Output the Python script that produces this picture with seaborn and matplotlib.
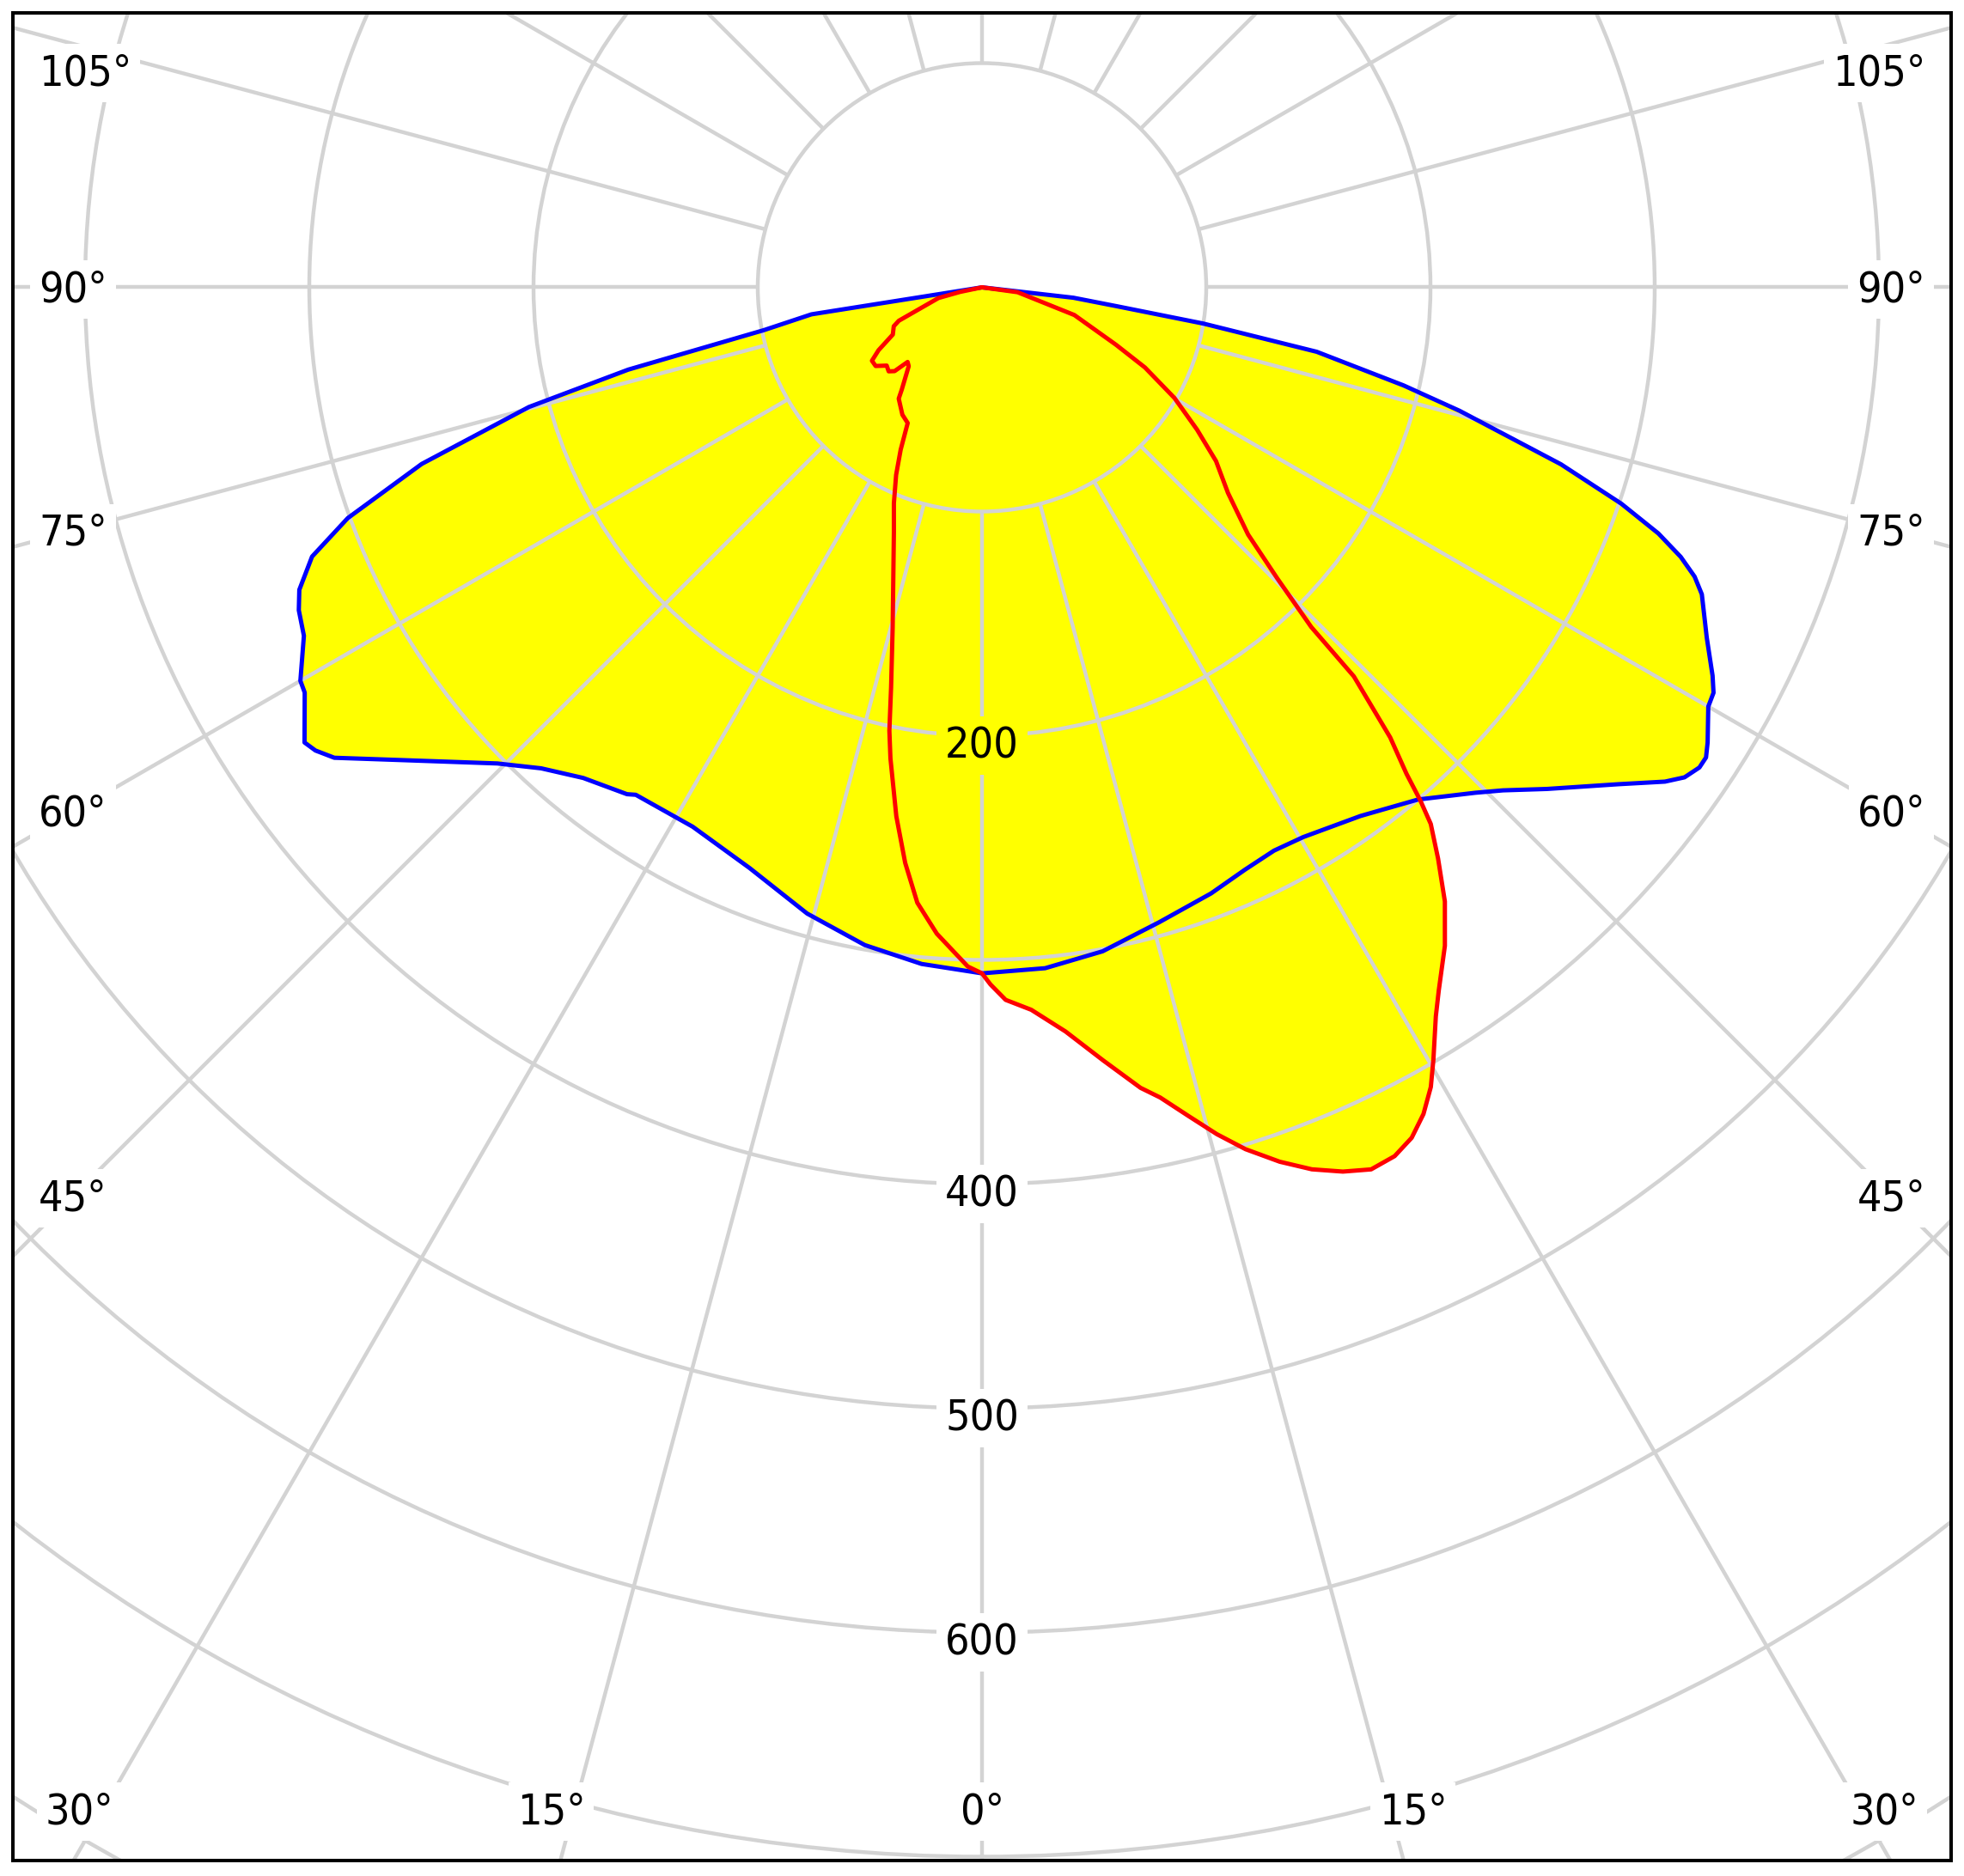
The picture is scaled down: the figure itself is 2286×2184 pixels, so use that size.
import numpy as np
import pandas as pd
import matplotlib
matplotlib.use("Agg")
import matplotlib.pyplot as plt
import seaborn as sns
from matplotlib.patches import Circle
from matplotlib.path import Path
from matplotlib import font_manager as fm

# ---------------- data (angle from nadir in degrees, intensity in cd) ----------------
blue_angles = [-90, -81.0, -78.9, -76.9, -75.2, -72.5, -70.0, -68.1, -66.1, -64.7,
               -62.8, -60.0, -59.1, -56.1, -55.2, -54.0, -51.0, -45.5, -42.5, -39.1, -35.0,
               -34.3, -28.2, -21.8, -15.6, -10.1, -5.1, 0,
               5.3, 10.3, 15.6, 20.7, 24.3, 27.4, 30.3, 35.6, 40.4, 44.3, 46.0, 48.4, 52.0,
               54.1, 55.1, 56.2, 57.0, 57.9, 60.0, 61.0, 62.0, 64.2, 66.9, 67.9, 68.9, 70.0,
               71.3, 73.0, 75.5, 76.9, 79.1, 80.7, 82.0, 83.5, 90]
blue_values = [0, 77, 99, 162, 209, 262, 301, 322, 333, 337,
               340, 351, 352, 364, 362, 357, 335, 303, 291, 282, 276,
               274, 273, 279, 290, 298, 303, 306,
               305, 301, 294, 289, 285, 283, 284, 290, 300, 315, 323, 337, 360,
               376, 382, 385, 385, 382, 374, 373, 369, 359, 349, 343, 334, 321,
               301, 270, 220, 193, 152, 100, 61, 41, 0]

red_angles = [-90, -78.2, -76.2, -68.1, -66.2, -62.1, -58.7, -56.3, -53.5, -50.6, -48.0,
              -46.2, -44.9, -42.9, -38.1, -36.8, -32.0, -28.7, -26.6, -24.6, -22.2, -19.8,
              -14.7, -12.8, -11.8, -11.0, -9.2, -7.6, -6.0, -4.0, -1.2, 0,
              0.7, 1.9, 3.9, 6.4, 8.9, 11.2, 12.4, 14.0, 15.5, 17.0, 18.8, 20.5, 22.2, 23.8,
              25.4, 26.8, 28.1, 29.3, 30.3, 31.9, 33.0, 35.1, 37.0, 38.6, 39.9, 40.5, 41.1,
              42.2, 43.7, 44.1, 45.4, 47.1, 50.1, 53.4, 56.5, 60.1, 63.8, 66.8, 73.3, 82.2, 90]
red_values = [0, 10, 20, 40, 43, 45, 54, 59, 59, 55, 56,
              54, 47, 48, 58, 62, 67, 69, 81, 92, 104, 116,
              157, 183, 202, 214, 239, 259, 276, 289, 303, 306,
              311, 318, 323, 334, 349, 364, 370, 381, 392, 402, 412, 420, 426, 430,
              429, 425, 418, 409, 399, 383, 374, 359, 343, 326, 312, 301, 288,
              271, 240, 211, 185, 162, 143, 130, 115, 99, 81, 65, 43, 16, 0]

ring_values = [100, 200, 300, 400, 500, 600, 700, 800, 900, 1000]
ring_labels = [200, 400, 500, 600]
spoke_angles = list(range(0, 360, 15))
bottom_angle_labels = [0, 15, 30]
side_angle_labels = [45, 60, 75, 90, 105]

# ---------------- styling ----------------
W, H, DPI = 2286, 2184, 100
GRID = "#d3d3d3"
YELLOW = "#ffff00"
BLUE = "#0000ff"
RED = "#ff0000"

sns.set_theme(style="white")
plt.rcParams["font.family"] = ["DejaVu Sans"]
has_cond = any(("DejaVuSansCondensed" in f.fname) or ("DejaVuSans-Condensed" in f.fname)
               for f in fm.fontManager.ttflist)
if has_cond:
    FONT = dict(family="DejaVu Sans", stretch="condensed", size=36)
else:
    FONT = dict(family="DejaVu Sans", size=34)

fig = plt.figure(figsize=(W / DPI, H / DPI), dpi=DPI)
fig.patch.set_facecolor("white")

# pixel geometry of the frame and pole
L, R, T, B = 14.7, 2271.3, 14.7, 2166.0
cx, cy = 1143.0, 334.5
PX = 2.61  # pixels per cd

ax = fig.add_axes([L / W, (H - B) / H, (R - L) / W, (B - T) / H])
ax.set_xlim((L - cx) / PX, (R - cx) / PX)
ax.set_ylim(-(B - cy) / PX, (cy - T) / PX)
ax.set_facecolor("white")
ax.set_xticks([])
ax.set_yticks([])
for s in ax.spines.values():
    s.set_color("black")
    s.set_linewidth(2.9)
    s.set_zorder(6)


def to_xy(angles, values):
    t = np.radians(np.asarray(angles, float))
    v = np.asarray(values, float)
    return v * np.sin(t), -v * np.cos(t)


bx, by = to_xy(blue_angles, blue_values)
rx, ry = to_xy(red_angles, red_values)
df_blue = pd.DataFrame({"x": bx, "y": by})
df_red = pd.DataFrame({"x": rx, "y": ry})

# fill
ax.fill(bx, by, color=YELLOW, lw=0, zorder=1)
ax.fill(rx, ry, color=YELLOW, lw=0, zorder=1)

# grid
for r in ring_values:
    ax.add_patch(Circle((0, 0), r, fill=False, ec=GRID, lw=3.2, zorder=2))
for a in spoke_angles:
    t = np.radians(a)
    ax.plot([100 * np.sin(t), 1200 * np.sin(t)], [-100 * np.cos(t), -1200 * np.cos(t)],
            color=GRID, lw=3.2, zorder=2, solid_capstyle="butt")

# curves
sns.lineplot(data=df_blue, x="x", y="y", sort=False, estimator=None, color=BLUE,
             lw=3.6, ax=ax, zorder=4)
sns.lineplot(data=df_red, x="x", y="y", sort=False, estimator=None, color=RED,
             lw=3.6, ax=ax, zorder=4)
for ln in ax.lines[-2:]:
    ln.set_solid_joinstyle("round")
ax.set_xlabel("")
ax.set_ylabel("")

paths = [Path(np.column_stack([bx, by])), Path(np.column_stack([rx, ry]))]


def bg(x, y):
    return YELLOW if any(p.contains_point((x, y)) for p in paths) else "white"


def label(x, y, s, ha="center"):
    ax.text(x, y, s, ha=ha, va="center", color="black", zorder=3,
            bbox=dict(boxstyle="square,pad=0.2", fc=bg(x, y), ec="none"), **FONT)


# intensity labels (set slightly below their ring)
for v in ring_labels:
    label(0, -v - 4.5, str(v))

# bottom angle labels
yb = -(2109 - cy) / PX
for a in bottom_angle_labels:
    sides = [1] if a == 0 else [-1, 1]
    for sgn in sides:
        x = sgn * (abs(yb) * np.tan(np.radians(a)) + (10 if a else 0))
        label(x, yb, f"{a}°")

# side angle labels
xs = (cx - 85) / PX
ytop = (cy - T) / PX
for a in side_angle_labels:
    t = np.radians(a)
    y = -xs * np.cos(t) / np.sin(t) - 1.0
    y = min(y, ytop - 27)
    label(-(cx - 45) / PX, y, f"{a}°", ha="left")
    label((2241 - cx) / PX, y, f"{a}°", ha="right")

fig.savefig("out.png", dpi=DPI, facecolor="white")
